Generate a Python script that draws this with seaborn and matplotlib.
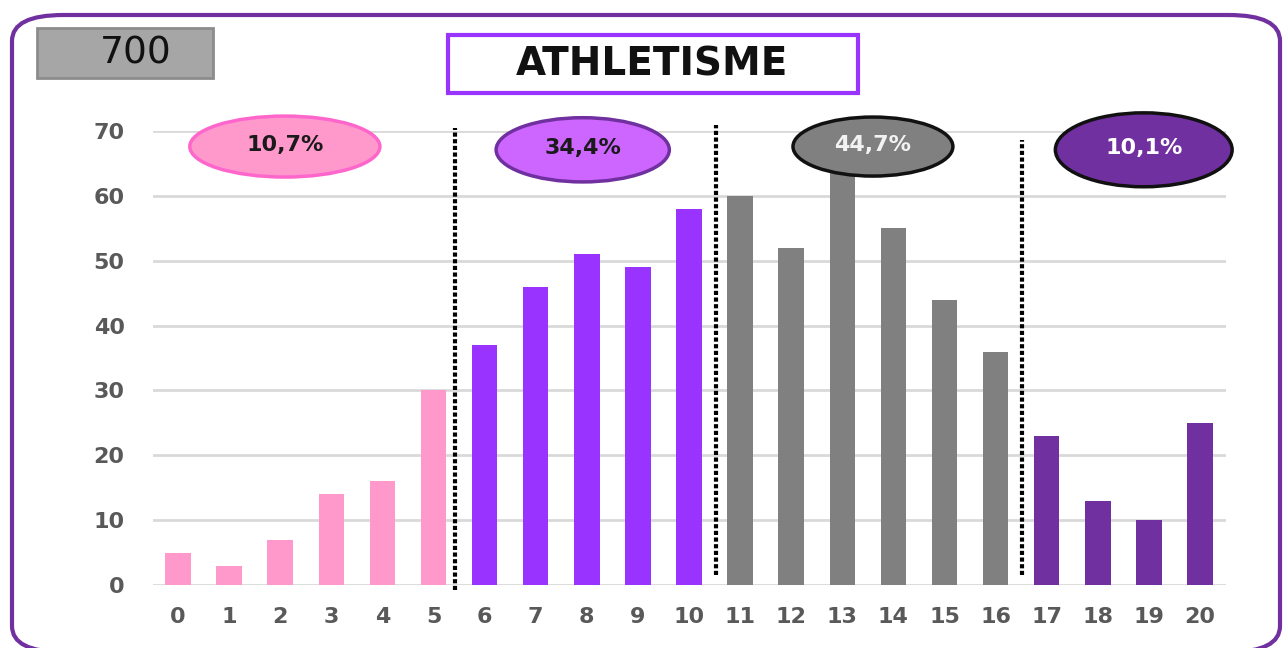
import matplotlib
matplotlib.use("Agg")
import matplotlib.pyplot as plt
import seaborn as sns
import pandas as pd
from matplotlib.patches import Ellipse, FancyBboxPatch, Rectangle

notes = [str(i) for i in range(21)]
counts = [5, 3, 7, 14, 16, 30, 37, 46, 51, 49, 58, 60, 52, 66, 55, 44, 36, 23, 13, 10, 25]
groups = ["A"] * 6 + ["B"] * 5 + ["C"] * 6 + ["D"] * 4
group_colors = {"A": "#FF99CC", "B": "#9933FF", "C": "#808080", "D": "#7030A0"}
group_pcts = ["10,7%", "34,4%", "44,7%", "10,1%"]
total_label = "700"
title = "ATHLETISME"

sns.set_theme(style="white")
plt.rcParams['font.family'] = ['DejaVu Sans']

df = pd.DataFrame({"note": notes, "count": counts, "group": groups})

fig = plt.figure(figsize=(12.86, 6.48), dpi=100)
W, H = 1286, 648
ax = fig.add_axes([152.5 / W, 63 / H, (1225.5 - 152.5) / W, 454 / H])

sns.barplot(data=df, x="note", y="count", hue="group", order=notes,
            palette=group_colors, dodge=False, width=0.5, legend=False,
            ax=ax, saturation=1, edgecolor="none")

ax.set_xlim(-0.5, 20.5)
ax.set_ylim(0, 70)
ax.set_yticks(range(0, 71, 10))
ax.grid(axis="y", color="#D9D9D9", linewidth=2)
ax.set_axisbelow(True)
for s in ax.spines.values():
    s.set_visible(False)
ax.set_xlabel("")
ax.set_ylabel("")
ax.tick_params(axis="y", length=0, pad=20, labelsize=16, labelcolor="#595959")
ax.tick_params(axis="x", length=0, pad=16, labelsize=16, labelcolor="#595959")
for lab in ax.get_xticklabels() + ax.get_yticklabels():
    lab.set_fontweight("bold")

# dotted separators
seps = [(5.42, -0.8, 70.4), (10.53, 1.5, 70.9), (16.52, 1.5, 68.6)]
for x, y0, y1 in seps:
    ax.plot([x, x], [y0, y1], color="black", linestyle=(0, (1, 0.6)),
            linewidth=3, clip_on=False, zorder=3)

# ellipses
ell = [
    (2.09, 67.6, 3.72, 9.4, "#FF99CC", "#FF66CC", "#1a1a1a"),
    (7.92, 67.1, 3.39, 9.9, "#CC66FF", "#7030A0", "#1a1a1a"),
    (13.6, 67.6, 3.13, 9.1, "#808080", "#111111", "#F2F2F2"),
    (18.9, 67.1, 3.46, 11.4, "#7030A0", "#111111", "#FFFFFF"),
]
for (x, y, w, h, fc, ec, tc), pct in zip(ell, group_pcts):
    e = Ellipse((x, y), w, h, facecolor=fc, edgecolor=ec, linewidth=2.5,
                clip_on=False, zorder=5)
    ax.add_patch(e)
    ax.text(x, y + 0.3, pct, ha="center", va="center", fontsize=16,
            fontweight="bold", color=tc, zorder=6)

# outer rounded border
border = FancyBboxPatch((12 / W, 1 - 652 / H), (1280 - 12) / W, (652 - 15) / H,
                        boxstyle="round,pad=0,rounding_size=0.04",
                        transform=fig.transFigure, facecolor="none",
                        edgecolor="#7030A0", linewidth=3, clip_on=False)
fig.patches.append(border)

# total box
tb = Rectangle((37 / W, 1 - 78 / H), (213 - 37) / W, 50 / H,
               transform=fig.transFigure, facecolor="#A6A6A6",
               edgecolor="#8C8C8C", linewidth=2)
fig.patches.append(tb)
fig.text(136 / W, 1 - 53 / H, total_label, ha="center", va="center",
         fontsize=27, color="#111111")

# title box
tt = Rectangle((448 / W, 1 - 93 / H), (858 - 448) / W, 58 / H,
               transform=fig.transFigure, facecolor="white",
               edgecolor="#9933FF", linewidth=3)
fig.patches.append(tt)
fig.text(652 / W, 1 - 65 / H, title, ha="center", va="center",
         fontsize=28, fontweight="bold", color="#111111")

fig.savefig("out.png", dpi=100)
